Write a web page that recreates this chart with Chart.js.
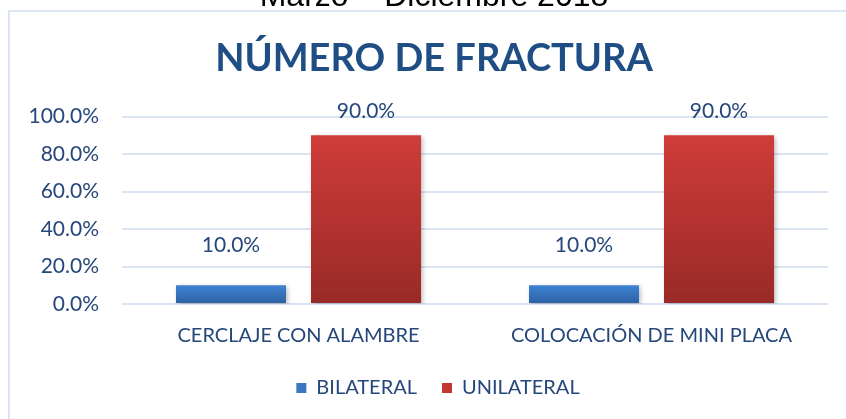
<!DOCTYPE html>
<html>
<head>
<meta charset="utf-8">
<script src="https://cdn.jsdelivr.net/npm/chart.js@4.4.0/dist/chart.umd.min.js"></script>
<style>
  html, body { margin: 0; padding: 0; background: #fff; }
  #wrap { width: 846px; height: 419px; position: relative; }
</style>
</head>
<body>
<div id="wrap"><canvas id="chart" width="846" height="419"></canvas></div>
<script>
const categories = ["CERCLAJE CON ALAMBRE", "COLOCACIÓN DE MINI PLACA"];
const bilateral = [10.0, 10.0];
const unilateral = [90.0, 90.0];
const yTicks = [0, 20, 40, 60, 80, 100];

const textColor = "#25477a";
const bodyFont = "Lato, 'Open Sans', sans-serif";

// vertical gradient per bar, from its top down to the zero line
function barGradient(top, bottom) {
  return (ctx) => {
    const chart = ctx.chart;
    const y = chart.scales.y;
    if (!y || ctx.parsed === undefined) return top;
    const y0 = y.getPixelForValue(ctx.parsed.y);
    const y1 = y.getPixelForValue(0);
    if (!isFinite(y0) || !isFinite(y1) || y0 === y1) return top;
    const g = chart.ctx.createLinearGradient(0, y0, 0, y1);
    g.addColorStop(0, top);
    g.addColorStop(1, bottom);
    return g;
  };
}

// frame + the cut off heading above it
const framePlugin = {
  id: "frame",
  afterLayout(chart) {
    // the original frame runs past the right edge, so title and legend sit right of centre
    chart.titleBlock.left += 10;
    chart.titleBlock.right += 10;
    chart.legend.left += 14;
    chart.legend.right += 14;
  },
  beforeDraw(chart) {
    const c = chart.ctx;
    c.save();
    c.fillStyle = "#fff";
    c.fillRect(0, 0, chart.width, chart.height);
    c.strokeStyle = "#dbe6f4";
    c.lineWidth = 2;
    c.strokeRect(9, 11, 860, 440);
    c.fillStyle = "#000";
    c.font = "32px 'Liberation Sans', Arial, sans-serif";
    c.textAlign = "center";
    c.textBaseline = "alphabetic";
    c.fillText("Marzo – Diciembre 2018", 434, 6);
    c.restore();
  }
};

const shadowPlugin = {
  id: "barShadow",
  beforeDatasetsDraw(chart) {
    const c = chart.ctx;
    c.save();
    c.shadowColor = "rgba(0,0,0,0.28)";
    c.shadowBlur = 5;
    c.shadowOffsetX = 2;
    c.shadowOffsetY = 2;
  },
  afterDatasetsDraw(chart) {
    chart.ctx.restore();
  }
};

const labelPlugin = {
  id: "valueLabels",
  afterDatasetsDraw(chart, args, opts) {
    const c = chart.ctx;
    c.save();
    c.fillStyle = textColor;
    c.font = "21px " + bodyFont;
    c.textAlign = "center";
    c.textBaseline = "middle";
    chart.data.datasets.forEach((ds, i) => {
      const meta = chart.getDatasetMeta(i);
      meta.data.forEach((bar, j) => {
        c.fillText(ds.data[j].toFixed(1) + "%", bar.x, bar.y - opts.offsets[i]);
      });
    });
    c.restore();
  }
};

new Chart(document.getElementById("chart"), {
  type: "bar",
  data: {
    labels: categories,
    datasets: [
      {
        label: "BILATERAL",
        data: bilateral,
        backgroundColor: barGradient("#3f82d2", "#2c61a3"),
        categoryPercentage: 0.765,
        barPercentage: 0.815
      },
      {
        label: "UNILATERAL",
        data: unilateral,
        backgroundColor: barGradient("#cf3c39", "#992a27"),
        categoryPercentage: 0.765,
        barPercentage: 0.815
      }
    ]
  },
  options: {
    responsive: false,
    animation: false,
    layout: { padding: { left: 20, right: 18, top: 0, bottom: 11 } },
    plugins: {
      title: {
        display: true,
        text: "NÚMERO DE FRACTURA",
        color: "#1f4e85",
        font: { family: bodyFont, size: 38, weight: "bold" },
        padding: { top: 36.2, bottom: 34.7 }
      },
      legend: {
        position: "bottom",
        labels: {
          color: textColor,
          font: { family: bodyFont, size: 20 },
          boxWidth: 10,
          boxHeight: 10,
          padding: 25,
          generateLabels(chart) {
            const cols = ["#3a78c4", "#c33734"];
            return chart.data.datasets.map((ds, i) => ({
              text: ds.label,
              fillStyle: cols[i],
              strokeStyle: cols[i],
              lineWidth: 0,
              fontColor: textColor,
              datasetIndex: i
            }));
          }
        }
      },
      tooltip: { enabled: false },
      valueLabels: { offsets: [40, 24] }
    },
    scales: {
      x: {
        clip: false,
        afterFit(scale) { scale.height = 49; },
        grid: { display: false, drawTicks: false },
        border: { display: false },
        ticks: {
          color: textColor,
          padding: 20,
          font: { family: bodyFont, size: 20 }
        }
      },
      y: {
        min: 0,
        max: 100,
        afterFit(scale) { scale.width = 102; },
        afterBuildTicks(scale) { scale.ticks = yTicks.map(v => ({ value: v })); },
        grid: { color: "#d9e4f2", lineWidth: 2, drawTicks: false },
        border: { display: false },
        ticks: {
          color: textColor,
          padding: 23,
          font: { family: bodyFont, size: 21 },
          callback: v => v.toFixed(1) + "%"
        }
      }
    }
  },
  plugins: [framePlugin, shadowPlugin, labelPlugin]
});
</script>
</body>
</html>
